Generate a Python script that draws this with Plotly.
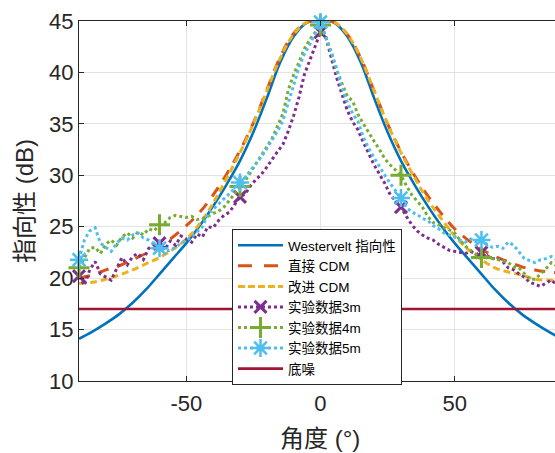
import plotly.graph_objects as go

# ---------------- data ----------------
theory_angles = [-90, -85, -80, -75, -70, -65, -60, -55, -50, -45, -40, -35, -30, -25, -20, -15, -10, -5,
                 0, 5, 10, 15, 20, 25, 30, 35, 40, 45, 50, 55, 60, 65, 70, 75, 80, 85, 90]
westervelt = [14.1, 14.8, 15.6, 16.5, 17.6, 18.9, 20.4, 21.9, 23.4, 25.1, 27.0, 29.1, 31.4, 34.2, 37.5, 41.0, 43.5, 44.85,
              45.0, 44.85, 43.5, 41.0, 37.5, 34.2, 31.4, 29.1, 27.0, 25.1, 23.4, 21.9, 20.4, 18.9, 17.6, 16.5, 15.6, 14.8, 14.1]
cdm_direct = [20.0, 20.3, 20.8, 21.2, 21.8, 22.4, 23.1, 24.0, 25.1, 26.4, 28.1, 30.1, 32.4, 35.1, 38.3, 41.5, 43.8, 44.9,
              45.0, 44.9, 43.7, 41.4, 38.2, 35.0, 32.3, 30.0, 28.0, 26.3, 24.8, 23.7, 22.8, 22.1, 21.6, 21.1, 20.8, 20.6, 20.5]
cdm_improved = [19.5, 19.6, 19.9, 20.3, 20.8, 21.4, 22.0, 22.8, 23.8, 25.3, 27.3, 29.7, 32.2, 35.0, 38.2, 41.4, 43.7, 44.9,
                45.0, 44.9, 43.7, 41.4, 38.2, 35.0, 32.2, 29.8, 27.6, 25.8, 24.1, 22.8, 21.8, 21.0, 20.6, 20.3, 19.9, 19.8, 19.7]

exp_angles = list(range(-90, 91, 2))
exp_3m = [20.2, 19.3, 20.8, 21.6, 20.4, 20.1, 19.8, 20.9, 22.0, 21.3, 22.1, 22.4, 21.8, 22.9, 23.3, 23.4,
          22.8, 23.6, 23.2, 24.1, 23.8, 23.5, 24.3, 24.0, 25.0, 24.9, 25.6, 26.1, 26.4, 27.2, 27.9,
          28.2, 29.0, 29.6, 30.1, 30.8, 31.6, 32.3, 33.0, 34.3, 35.8, 37.6, 39.8, 41.2, 42.6, 43.9,
          43.4, 41.3, 39.5, 37.9, 36.3, 35.2, 34.4, 33.2, 32.1, 31.0, 30.1, 29.2, 28.1, 27.5, 26.9,
          26.0, 25.2, 24.6, 24.2, 23.9, 23.7, 23.3, 23.0, 22.7, 22.6, 22.5, 22.4, 22.6, 22.3, 22.5,
          22.2, 21.9, 21.9, 21.6, 21.0, 20.8, 20.4, 20.1, 19.6, 19.4, 19.2, 19.5, 19.8, 19.4, 19.6]
exp_4m = [21.0, 22.0, 22.9, 23.0, 22.4, 23.3, 23.7, 23.2, 24.0, 24.4, 23.9, 24.5, 24.2, 24.8, 24.6, 25.2,
          25.4, 25.9, 26.1, 26.0, 25.9, 26.0, 25.7, 25.8, 26.0, 26.3, 26.5, 26.9, 27.5, 28.2, 28.9,
          29.5, 30.3, 31.1, 32.0, 32.8, 33.6, 34.8, 36.0, 38.3, 39.8, 41.0, 42.3, 43.2, 43.9, 44.6,
          43.4, 42.0, 40.2, 38.9, 37.7, 37.2, 35.9, 35.0, 34.1, 33.3, 32.5, 31.6, 31.0, 30.5, 30.0,
          29.0, 28.1, 27.5, 26.9, 26.0, 25.4, 25.2, 24.9, 24.7, 24.4, 23.7, 23.1, 22.7, 22.3, 22.0,
          22.1, 21.9, 21.8, 21.7, 21.5, 21.1, 21.0, 20.5, 19.9, 19.9, 20.4, 20.9, 21.5, 21.2, 21.0]
exp_5m = [21.8, 23.7, 24.6, 24.9, 23.4, 23.0, 22.6, 23.4, 23.9, 23.7, 24.2, 24.4, 23.9, 23.7, 23.3, 22.9,
          22.6, 22.7, 23.0, 23.4, 23.7, 24.0, 24.5, 25.0, 26.2, 26.7, 27.2, 27.6, 28.2, 28.7, 29.3,
          29.8, 30.5, 31.1, 31.8, 32.6, 33.4, 34.3, 35.3, 37.0, 38.8, 40.5, 41.8, 42.7, 43.8, 44.9,
          43.5, 42.0, 40.4, 38.5, 37.1, 36.0, 35.2, 33.7, 32.6, 31.7, 30.8, 30.0, 29.2, 28.5, 27.8,
          26.9, 26.4, 26.2, 25.8, 25.6, 25.1, 24.8, 24.4, 24.2, 24.0, 23.7, 23.5, 23.8, 23.5, 23.7,
          23.3, 23.0, 23.1, 22.9, 23.5, 23.2, 22.5, 21.9, 21.7, 21.5, 21.8, 21.9, 22.1, 21.8, 22.0]
marker_angles = [-90, -60, -30, 0, 30, 60, 90]

noise_angles = [-90, 90]
noise_floor = [17.0, 17.0]

x_ticks = [-50, 0, 50]
x_tick_labels = ["-50", "0", "50"]
names = ["Westervelt 指向性", "直接 CDM", "改进 CDM", "实验数据3m", "实验数据4m", "实验数据5m", "底噪"]

# ---------------- styles ----------------
C_BLUE, C_ORANGE, C_YELLOW = "#0072BD", "#D95319", "#EDB120"
C_PURPLE, C_GREEN, C_CYAN, C_RED = "#7E2F8E", "#77AC30", "#4DBEEE", "#A2142F"
FONT = "Liberation Sans, Arial, Noto Sans CJK SC, sans-serif"
AX = "#262626"

fig = go.Figure()

line_specs = [
    (theory_angles, westervelt, dict(color=C_BLUE, width=2.6)),
    (theory_angles, cdm_direct, dict(color=C_ORANGE, width=3, dash="11px,9px")),
    (theory_angles, cdm_improved, dict(color=C_YELLOW, width=3, dash="7px,4px")),
]
for xs, ys, ln in line_specs:
    fig.add_trace(go.Scatter(x=xs, y=ys, mode="lines", line=ln, line_shape="spline",
                             showlegend=False, hoverinfo="skip"))

exp_specs = [
    (exp_3m, C_PURPLE, dict(symbol="x-thin", size=12, line=dict(width=3, color=C_PURPLE))),
    (exp_4m, C_GREEN, dict(symbol="cross-thin", size=15, line=dict(width=3, color=C_GREEN))),
    (exp_5m, C_CYAN, dict(symbol="asterisk", size=15, line=dict(width=2.5, color=C_CYAN))),
]
for ys, col, mk in exp_specs:
    fig.add_trace(go.Scatter(x=exp_angles, y=ys, mode="lines",
                             line=dict(color=col, width=3, dash="dot"),
                             showlegend=False, hoverinfo="skip"))
    my = [ys[exp_angles.index(a)] for a in marker_angles]
    fig.add_trace(go.Scatter(x=marker_angles, y=my, mode="markers", marker=mk, cliponaxis=False,
                             showlegend=False, hoverinfo="skip"))

fig.add_trace(go.Scatter(x=noise_angles, y=noise_floor, mode="lines",
                         line=dict(color=C_RED, width=2.6), showlegend=False, hoverinfo="skip"))

# legend-only entries
legend_specs = [
    (names[0], "lines", dict(color=C_BLUE, width=2.6), None),
    (names[1], "lines", dict(color=C_ORANGE, width=3, dash="14px,12px"), None),
    (names[2], "lines", dict(color=C_YELLOW, width=3, dash="7px,3px"), None),
    (names[3], "lines+markers", dict(color=C_PURPLE, width=3, dash="dot"), exp_specs[0][2]),
    (names[4], "lines+markers", dict(color=C_GREEN, width=3, dash="dot"), exp_specs[1][2]),
    (names[5], "lines+markers", dict(color=C_CYAN, width=3, dash="dot"), exp_specs[2][2]),
    (names[6], "lines", dict(color=C_RED, width=2.6), None),
]
for nm, mode, ln, mk in legend_specs:
    kw = dict(x=[None], y=[None], mode=mode, name=nm, line=ln, showlegend=True)
    if mk is not None:
        kw["marker"] = mk
    fig.add_trace(go.Scatter(**kw))

fig.update_layout(
    width=555, height=453,
    margin=dict(l=79, r=0, t=21, b=72),
    paper_bgcolor="white", plot_bgcolor="white",
    font=dict(family=FONT, color=AX),
    showlegend=True,
    legend=dict(x=0.3214, y=0.4222, xanchor="left", yanchor="top",
                bgcolor="white", bordercolor=AX, borderwidth=1,
                font=dict(size=13.5, family=FONT, color="#000000"),
                itemwidth=45, tracegroupgap=0),
    xaxis=dict(range=[-90, 87.4], tickvals=x_ticks, ticktext=x_tick_labels,
               showgrid=True, gridcolor="#e3e3e3",
               showline=True, linecolor=AX, linewidth=1, mirror="ticks",
               ticks="inside", ticklen=5, tickcolor=AX, zeroline=False,
               ticklabelstandoff=3,
               tickfont=dict(size=22, family=FONT, color=AX)),
    yaxis=dict(range=[10, 45], dtick=5, showgrid=True, gridcolor="#e3e3e3",
               showline=True, linecolor=AX, linewidth=1,
               ticks="inside", ticklen=5, tickcolor=AX, zeroline=False,
               tickfont=dict(size=22, family=FONT, color=AX)),
    annotations=[
        dict(text="角度 (°)", xref="paper", yref="paper", x=0.506, y=-0.161,
             xanchor="center", yanchor="middle", showarrow=False,
             font=dict(size=24, family=FONT, color=AX)),
        dict(text="指向性 (dB)", xref="paper", yref="paper", x=-0.1155, y=0.5,
             xanchor="center", yanchor="middle", textangle=-90, showarrow=False,
             font=dict(size=24, family=FONT, color=AX)),
    ],
)

fig.write_html("out.html")
